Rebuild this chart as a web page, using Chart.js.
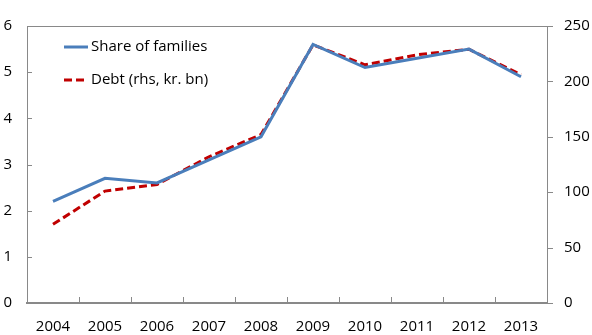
<!DOCTYPE html>
<html>
<head>
<meta charset="utf-8">
<script src="https://cdn.jsdelivr.net/npm/chart.js@4/dist/chart.umd.min.js"></script>
<style>
  html, body { margin: 0; padding: 0; background: #fff; }
  #wrap { width: 592px; height: 335px; }
</style>
</head>
<body>
<div id="wrap"><canvas id="lineChart"></canvas></div>
<script>
// chart data
var years = ["2004", "2005", "2006", "2007", "2008", "2009", "2010", "2011", "2012", "2013"];
var shareOfFamilies = [2.2, 2.7, 2.6, 3.1, 3.6, 5.6, 5.1, 5.3, 5.5, 4.9];
var debtBn = [71, 101, 107, 132, 152, 233, 215, 224, 229, 206];
var leftTicks = [0, 1, 2, 3, 4, 5, 6];
var rightTicks = [0, 50, 100, 150, 200, 250];

var axisGray = '#898989';
var fontFam = "'Open Sans', sans-serif";

// small tick marks, top frame line + legend inside the plot
var extras = {
    id: 'extras',
    afterDraw: function(chart){
        var ctx = chart.ctx;
        var area = chart.chartArea;
        var x = chart.scales.x, y = chart.scales.y, y1 = chart.scales.y1;
        ctx.save();
        ctx.strokeStyle = axisGray;
        ctx.lineWidth = 1;
        ctx.beginPath();
        var top = Math.round(area.top) + 0.5;
        ctx.moveTo(area.left, top);
        ctx.lineTo(area.right, top);
        for (var i = 1; i < years.length; i++) {
            var px = Math.round((x.getPixelForValue(i - 1) + x.getPixelForValue(i)) / 2) + 0.5;
            ctx.moveTo(px, area.bottom);
            ctx.lineTo(px, area.bottom - 6);
        }
        leftTicks.forEach(function(v){
            var py = Math.round(y.getPixelForValue(v)) + 0.5;
            ctx.moveTo(area.left, py);
            ctx.lineTo(area.left + 5, py);
        });
        rightTicks.forEach(function(v){
            var py = Math.round(y1.getPixelForValue(v)) + 0.5;
            ctx.moveTo(area.right, py);
            ctx.lineTo(area.right + 6, py);
        });
        ctx.stroke();

        // legend
        var lx = area.left + 37, ly = area.top + 21;
        chart.data.datasets.forEach(function(ds, k){
            var yy = ly + k * 33;
            ctx.strokeStyle = ds.borderColor;
            ctx.lineWidth = ds.borderWidth;
            ctx.setLineDash(ds.borderDash || []);
            ctx.beginPath();
            ctx.moveTo(lx, yy);
            ctx.lineTo(lx + 24, yy);
            ctx.stroke();
            ctx.setLineDash([]);
            ctx.fillStyle = '#000';
            ctx.font = '15px ' + fontFam;
            ctx.textBaseline = 'middle';
            ctx.fillText(ds.label, lx + 27, yy);
        });
        ctx.restore();
    }
};

var ctxL = document.getElementById("lineChart").getContext('2d');
var myLineChart = new Chart(ctxL, {
    type: 'line',
    data: {
        labels: years,
        datasets: [{
            label: "Share of families",
            data: shareOfFamilies,
            yAxisID: 'y',
            borderColor: '#4A7EBB',
            borderWidth: 3,
            pointRadius: 0,
            tension: 0,
            fill: false
        }, {
            label: "Debt (rhs, kr. bn)",
            data: debtBn,
            yAxisID: 'y1',
            borderColor: '#C00000',
            borderWidth: 3,
            borderDash: [8, 4],
            pointRadius: 0,
            tension: 0,
            fill: false
        }]
    },
    options: {
        responsive: true,
        maintainAspectRatio: false,
        animation: false,
        layout: { padding: { top: 22, left: 0, right: 0, bottom: 0 } },
        plugins: {
            legend: { display: false },
            tooltip: { enabled: false }
        },
        scales: {
            x: {
                offset: true,
                grid: { display: false, drawTicks: false },
                border: { display: true, color: axisGray, width: 2 },
                ticks: { color: '#000', font: { family: fontFam, size: 15 }, padding: 15, maxRotation: 0, autoSkip: false },
                afterFit: function(s){ s.height = 32; }
            },
            y: {
                position: 'left',
                min: 0, max: 6,
                afterBuildTicks: function(s){ s.ticks = leftTicks.map(function(v){ return {value: v}; }); },
                grid: { display: false, drawTicks: false },
                border: { display: true, color: axisGray, width: 1 },
                ticks: { color: '#000', font: { family: fontFam, size: 15 }, padding: 15 },
                afterFit: function(s){ s.width = 27; }
            },
            y1: {
                position: 'right',
                min: 0, max: 250,
                afterBuildTicks: function(s){ s.ticks = rightTicks.map(function(v){ return {value: v}; }); },
                grid: { display: false, drawTicks: false },
                border: { display: true, color: axisGray, width: 1 },
                ticks: { color: '#000', font: { family: fontFam, size: 15 }, padding: 17 },
                afterFit: function(s){ s.width = 45; }
            }
        }
    },
    plugins: [extras]
});
</script>
</body>
</html>
